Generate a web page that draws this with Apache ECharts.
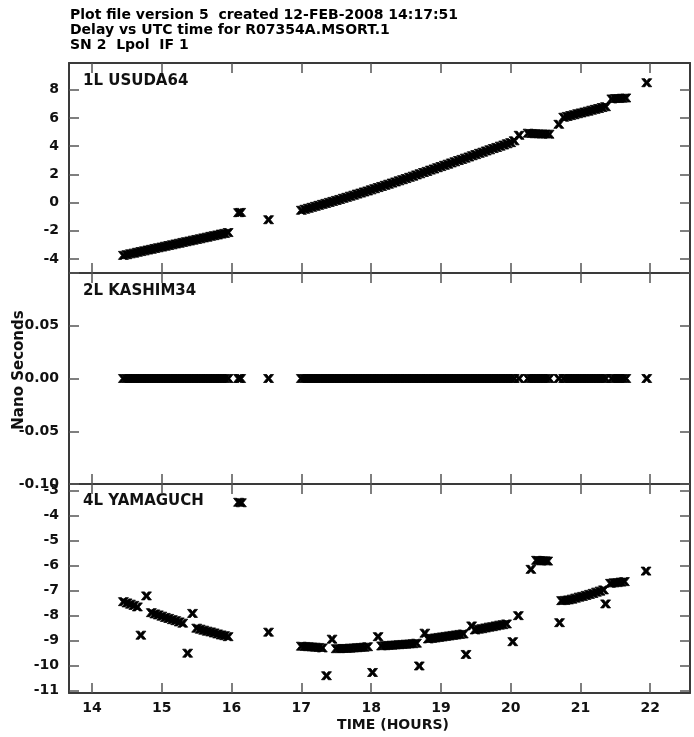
<!DOCTYPE html>
<html>
<head>
<meta charset="utf-8">
<title>Delay vs UTC time</title>
<script src="https://cdn.jsdelivr.net/npm/echarts@6/dist/echarts.min.js"></script>
<style>
  html, body { margin: 0; padding: 0; background: #fff; }
  #main { width: 694px; height: 737px; }
</style>
</head>
<body>
<div id="main"></div>
<script>
var titleLines = [
  'Plot file version 5  created 12-FEB-2008 14:17:51',
  'Delay vs UTC time for R07354A.MSORT.1',
  'SN 2  Lpol  IF 1'
];
var panelNames = ['1L USUDA64', '2L KASHIM34', '4L YAMAGUCH'];

var hourTicks = [14, 15, 16, 17, 18, 19, 20, 21, 22];
var usudaTicks = [-4, -2, 0, 2, 4, 6, 8];
var kashimTicks = [-0.1, -0.05, 0, 0.05, 0.1];
var kashimLabels = [-0.1, -0.05, 0, 0.05];
var yamaTicks = [-11, -10, -9, -8, -7, -6, -5, -4, -3];

// 1L USUDA64 (hours UTC, ns)
var usudaTime = [
  14.45, 14.50, 14.55, 14.60, 14.65, 14.70, 14.75, 14.80, 14.85, 14.90,
  14.95, 15.00, 15.05, 15.10, 15.15, 15.20, 15.25, 15.30, 15.35, 15.40,
  15.45, 15.50, 15.55, 15.60, 15.65, 15.70, 15.75, 15.80, 15.85, 15.90,
  15.95, 16.10, 16.13, 16.53,
  17.00, 17.05, 17.10, 17.15, 17.20, 17.25, 17.30, 17.35, 17.40, 17.45,
  17.50, 17.55, 17.60, 17.65, 17.70, 17.75, 17.80, 17.85, 17.90, 17.95,
  18.00, 18.05, 18.10, 18.15, 18.20, 18.25, 18.30, 18.35, 18.40, 18.45,
  18.50, 18.55, 18.60, 18.65, 18.70, 18.75, 18.80, 18.85, 18.90, 18.95,
  19.00, 19.05, 19.10, 19.15, 19.20, 19.25, 19.30, 19.35, 19.40, 19.45,
  19.50, 19.55, 19.60, 19.65, 19.70, 19.75, 19.80, 19.85, 19.90, 19.95,
  20.00, 20.05, 20.12, 20.25, 20.30, 20.35, 20.40, 20.45, 20.50, 20.55,
  20.69, 20.76, 20.81, 20.86, 20.91, 20.96, 21.01, 21.06, 21.11, 21.16,
  21.21, 21.26, 21.31, 21.36, 21.45, 21.50, 21.55, 21.60, 21.65, 21.95
];
var usudaDelay = [
  -3.75, -3.70, -3.64, -3.59, -3.53, -3.48, -3.43, -3.37, -3.32, -3.26,
  -3.21, -3.16, -3.10, -3.05, -3.00, -2.94, -2.89, -2.83, -2.78, -2.73,
  -2.67, -2.62, -2.57, -2.51, -2.46, -2.40, -2.35, -2.30, -2.24, -2.19,
  -2.13, -0.72, -0.70, -1.22,
  -0.55, -0.48, -0.41, -0.34, -0.27, -0.20, -0.13, -0.06, 0.01, 0.08,
  0.15, 0.22, 0.30, 0.37, 0.45, 0.52, 0.60, 0.67, 0.75, 0.82,
  0.90, 0.98, 1.06, 1.14, 1.22, 1.30, 1.38, 1.46, 1.54, 1.62,
  1.70, 1.79, 1.87, 1.96, 2.04, 2.13, 2.21, 2.30, 2.38, 2.47,
  2.55, 2.64, 2.72, 2.81, 2.89, 2.98, 3.06, 3.15, 3.23, 3.32,
  3.40, 3.49, 3.57, 3.66, 3.74, 3.83, 3.91, 4.00, 4.08, 4.17,
  4.25, 4.38, 4.77, 4.92, 4.90, 4.88, 4.87, 4.86, 4.86, 4.85,
  5.55, 6.05, 6.11, 6.17, 6.23, 6.30, 6.36, 6.42, 6.48, 6.55,
  6.61, 6.67, 6.74, 6.80, 7.35, 7.38, 7.38, 7.40, 7.42, 8.50
];

// 2L KASHIM34 is the reference station: same scans, delay 0.00
var kashimTime = usudaTime;
var kashimDelay = [
  0, 0, 0, 0, 0, 0, 0, 0, 0, 0,
  0, 0, 0, 0, 0, 0, 0, 0, 0, 0,
  0, 0, 0, 0, 0, 0, 0, 0, 0, 0,
  0, 0, 0, 0,
  0, 0, 0, 0, 0, 0, 0, 0, 0, 0,
  0, 0, 0, 0, 0, 0, 0, 0, 0, 0,
  0, 0, 0, 0, 0, 0, 0, 0, 0, 0,
  0, 0, 0, 0, 0, 0, 0, 0, 0, 0,
  0, 0, 0, 0, 0, 0, 0, 0, 0, 0,
  0, 0, 0, 0, 0, 0, 0, 0, 0, 0,
  0, 0, 0, 0, 0, 0, 0, 0, 0, 0,
  0, 0, 0, 0, 0, 0, 0, 0, 0, 0,
  0, 0, 0, 0, 0, 0, 0, 0, 0, 0
];

// 4L YAMAGUCH
var yamaTime = [
  14.45, 14.50, 14.55, 14.60, 14.65, 14.70, 14.78, 14.85, 14.90, 14.95,
  15.00, 15.05, 15.10, 15.15, 15.20, 15.25, 15.30, 15.37, 15.44, 15.50,
  15.55, 15.60, 15.65, 15.70, 15.75, 15.80, 15.85, 15.90, 15.95, 16.10,
  16.14, 16.53, 17.00, 17.05, 17.10, 17.15, 17.20, 17.25, 17.30, 17.36,
  17.44, 17.50, 17.55, 17.60, 17.65, 17.70, 17.75, 17.80, 17.85, 17.90,
  17.95, 18.02, 18.10, 18.15, 18.20, 18.25, 18.30, 18.35, 18.40, 18.45,
  18.50, 18.55, 18.60, 18.65, 18.69, 18.77, 18.82, 18.87, 18.92, 18.97,
  19.02, 19.07, 19.12, 19.17, 19.22, 19.27, 19.32, 19.36, 19.44, 19.49,
  19.54, 19.59, 19.64, 19.69, 19.74, 19.79, 19.84, 19.89, 19.94, 20.03,
  20.11, 20.29, 20.37, 20.41, 20.45, 20.49, 20.53, 20.70, 20.73, 20.78,
  20.83, 20.88, 20.93, 20.98, 21.03, 21.08, 21.13, 21.18, 21.23, 21.28,
  21.33, 21.36, 21.43, 21.48, 21.53, 21.58, 21.63, 21.94
];
var yamaDelay = [
  -7.45, -7.50, -7.55, -7.60, -7.66, -8.79, -7.22, -7.89, -7.94, -7.98,
  -8.03, -8.08, -8.12, -8.17, -8.21, -8.26, -8.31, -9.51, -7.92, -8.51,
  -8.55, -8.59, -8.63, -8.66, -8.70, -8.74, -8.78, -8.81, -8.85, -3.48,
  -3.50, -8.67, -9.23, -9.24, -9.25, -9.26, -9.27, -9.28, -9.30, -10.41,
  -8.95, -9.33, -9.33, -9.32, -9.32, -9.31, -9.30, -9.29, -9.28, -9.27,
  -9.25, -10.28, -8.85, -9.22, -9.21, -9.20, -9.19, -9.18, -9.17, -9.16,
  -9.15, -9.14, -9.13, -9.11, -10.02, -8.71, -8.94, -8.92, -8.90, -8.88,
  -8.86, -8.84, -8.82, -8.80, -8.78, -8.76, -8.74, -9.56, -8.42, -8.58,
  -8.55, -8.53, -8.50, -8.47, -8.45, -8.42, -8.39, -8.37, -8.34, -9.05,
  -8.01, -6.16, -5.80, -5.81, -5.82, -5.82, -5.83, -8.29, -7.41, -7.40,
  -7.38, -7.35, -7.31, -7.27, -7.24, -7.20, -7.16, -7.12, -7.07, -7.03,
  -6.98, -7.54, -6.72, -6.70, -6.69, -6.67, -6.65, -6.23
];

function pairs(xs, ys) {
  var out = [];
  for (var i = 0; i < xs.length; i++) {
    out.push([xs[i], ys[i]]);
  }
  return out;
}

var FONT = '"DejaVu Sans", Arial, sans-serif';
// heavy "x" plot symbol
var crossMark = 'path://M0,0 L3.2,0 L5,2.4 L6.8,0 L10,0 L6.8,4 L10,8 L6.8,8 L5,5.6 L3.2,8 L0,8 L3.2,4 Z';

var grids = [
  { left: 69, right: 4, top: 63, height: 210 },
  { left: 69, right: 4, top: 273, height: 211 },
  { left: 69, right: 4, top: 484, height: 209 }
];
var yRanges = [[-5, 9.9], [-0.1, 0.1], [-11.1, -2.75]];
var yTickSets = [usudaTicks, kashimTicks, yamaTicks];
var yLabelSets = [usudaTicks, kashimLabels, yamaTicks];

var lineStyle = { color: '#3a3a3a', width: 2 };
var tickStyle = { color: '#555', width: 1.5 };
var labelStyle = { fontFamily: FONT, fontWeight: 'bold', fontSize: 14, color: '#111' };

var xAxes = [];
var yAxes = [];
for (var g = 0; g < 3; g++) {
  ['bottom', 'top'].forEach(function (pos) {
    xAxes.push({
      type: 'value', gridIndex: g, position: pos,
      min: 13.67, max: 22.57,
      splitLine: { show: false },
      axisLine: { show: true, onZero: false, lineStyle: lineStyle },
      axisTick: { show: true, inside: true, length: 10, lineStyle: tickStyle, customValues: hourTicks },
      axisLabel: Object.assign({
        show: g === 2 && pos === 'bottom', margin: 8, customValues: hourTicks
      }, labelStyle)
    });
  });
  (function (gi) {
    ['left', 'right'].forEach(function (pos) {
      yAxes.push({
        type: 'value', gridIndex: gi, position: pos,
        min: yRanges[gi][0], max: yRanges[gi][1],
        splitLine: { show: false },
        axisLine: { show: true, onZero: false, lineStyle: lineStyle },
        axisTick: { show: true, inside: true, length: 10, lineStyle: tickStyle, customValues: yTickSets[gi] },
        axisLabel: Object.assign({
          show: pos === 'left', margin: 10, customValues: yLabelSets[gi],
          formatter: function (v) { return gi === 1 ? v.toFixed(2) : String(v); }
        }, labelStyle)
      });
    });
  })(g);
}

var seriesData = [
  pairs(usudaTime, usudaDelay),
  pairs(kashimTime, kashimDelay),
  pairs(yamaTime, yamaDelay)
];
var series = seriesData.map(function (d, i) {
  return {
    type: 'scatter', name: panelNames[i],
    xAxisIndex: i * 2, yAxisIndex: i * 2,
    symbol: crossMark, symbolSize: [10, 8],
    itemStyle: { color: '#000', borderColor: '#000', borderWidth: 0.8, opacity: 1 },
    silent: true,
    data: d
  };
});

var graphics = [];
titleLines.forEach(function (t, i) {
  graphics.push({
    type: 'text', x: 70, y: 15.5 + i * 15,
    style: { text: t, font: 'bold 14px ' + FONT, fill: '#000', textVerticalAlign: 'middle' }
  });
});
[81.5, 291.5, 501].forEach(function (y, i) {
  graphics.push({
    type: 'text', x: 83, y: y,
    style: { text: panelNames[i], font: 'bold 15px ' + FONT, fill: '#111', textVerticalAlign: 'middle' }
  });
});
graphics.push({
  type: 'text', x: 19, y: 370, rotation: Math.PI / 2,
  style: { text: 'Nano Seconds', font: 'bold 15px ' + FONT, fill: '#111', textAlign: 'center', textVerticalAlign: 'middle' }
});
graphics.push({
  type: 'text', x: 393, y: 725,
  style: { text: 'TIME (HOURS)', font: 'bold 14px ' + FONT, fill: '#111', textAlign: 'center', textVerticalAlign: 'middle' }
});

var chart = echarts.init(document.getElementById('main'));
chart.setOption({
  animation: false,
  backgroundColor: '#fff',
  grid: grids,
  xAxis: xAxes,
  yAxis: yAxes,
  series: series,
  graphic: graphics
});
</script>
</body>
</html>
